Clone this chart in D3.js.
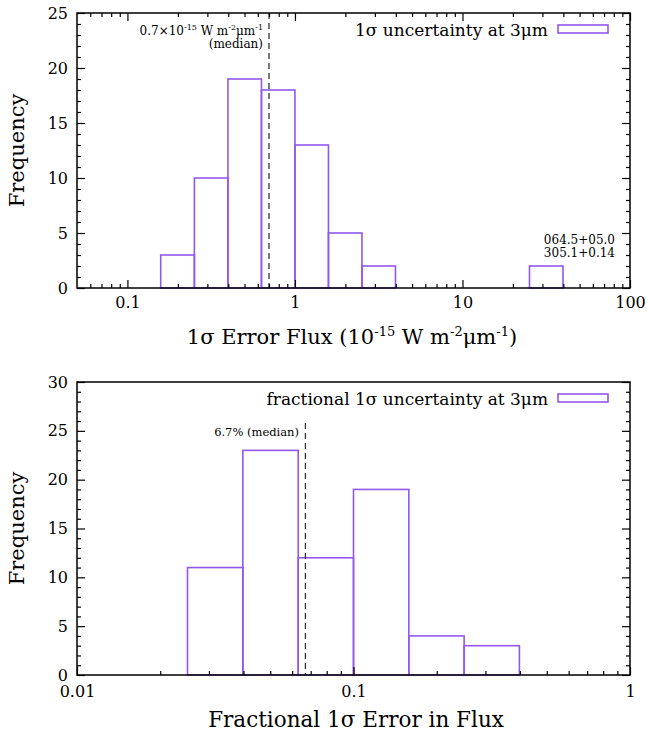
<!DOCTYPE html>
<html>
<head>
<meta charset="utf-8">
<script src="https://cdn.jsdelivr.net/npm/d3@7"></script>
<style>
  body { margin: 0; background: #fff; }
  svg { font-family: "DejaVu Serif", serif; }
</style>
</head>
<body>
<div id="chart"></div>
<script>
// top panel: 1 sigma error flux (10^-15 W m^-2 um^-1)
const topBinLo = [0.158, 0.251, 0.398, 0.631, 1.0, 1.585, 2.512, 25.12];
const topBinHi = [0.251, 0.398, 0.631, 1.0, 1.585, 2.512, 3.981, 39.81];
const topCounts = [3, 10, 19, 18, 13, 5, 2, 2];
const topMedian = 0.7;
const topXTicks = [0.1, 1, 10, 100];
const topYTicks = [0, 5, 10, 15, 20, 25];

// bottom panel: fractional 1 sigma error
const botBinLo = [0.0251, 0.0398, 0.0631, 0.1, 0.1585, 0.2512];
const botBinHi = [0.0398, 0.0631, 0.1, 0.1585, 0.2512, 0.3981];
const botCounts = [11, 23, 12, 19, 4, 3];
const botMedian = 0.067;
const botXTicks = [0.01, 0.1, 1];
const botYTicks = [0, 5, 10, 15, 20, 25, 30];

const W = 649, H = 736;
const purple = "#9157ee";

const svg = d3.select("#chart").append("svg")
  .attr("width", W).attr("height", H);

function logMinors(domain) {
  const out = [];
  for (let e = -3; e <= 3; e++) {
    for (let m = 2; m <= 9; m++) {
      const v = m * Math.pow(10, e);
      if (v > domain[0] && v < domain[1]) out.push(+v.toPrecision(3));
    }
  }
  return out;
}

function drawPanel(opt) {
  const x = d3.scaleLog().domain(opt.xDomain).range([opt.left, opt.right]);
  const y = d3.scaleLinear().domain(opt.yDomain).range([opt.bottom, opt.top]);
  const g = svg.append("g");
  const ymax = opt.yDomain[1];
  const yMinor = d3.range(0, ymax + 1).filter(v => v % 5 !== 0);
  const xMinor = logMinors(opt.xDomain);

  // bars
  g.selectAll("rect.bar")
    .data(opt.counts)
    .join("rect")
    .attr("class", "bar")
    .attr("x", (d, i) => x(opt.lo[i]))
    .attr("y", d => y(d))
    .attr("width", (d, i) => x(opt.hi[i]) - x(opt.lo[i]))
    .attr("height", d => y(0) - y(d))
    .attr("fill", "none")
    .attr("stroke", purple)
    .attr("stroke-width", 1.6);

  // median line
  g.append("line")
    .attr("x1", x(opt.median)).attr("x2", x(opt.median))
    .attr("y1", y(opt.medianTop)).attr("y2", y(0))
    .attr("stroke", "#333")
    .attr("stroke-width", 1.3)
    .attr("stroke-dasharray", "6,4");

  // axes (inward ticks)
  const axisFont = "16px 'DejaVu Serif'";
  g.append("g")
    .attr("transform", `translate(0,${opt.bottom})`)
    .call(d3.axisBottom(x).tickValues(opt.xTicks).tickSize(-8).tickPadding(opt.xPad)
      .tickFormat(d => d))
    .call(a => a.select(".domain").remove())
    .call(a => a.selectAll("text").style("font", axisFont).attr("dy", "0.71em"));
  g.append("g")
    .attr("transform", `translate(0,${opt.bottom})`)
    .call(d3.axisBottom(x).tickValues(xMinor).tickSize(-4).tickFormat(""))
    .call(a => a.select(".domain").remove());

  g.append("g")
    .attr("transform", `translate(${opt.left},0)`)
    .call(d3.axisLeft(y).tickValues(opt.yTicks).tickSize(-8).tickPadding(9))
    .call(a => a.select(".domain").remove())
    .call(a => a.selectAll("text").style("font", axisFont));
  g.append("g")
    .attr("transform", `translate(${opt.left},0)`)
    .call(d3.axisLeft(y).tickValues(yMinor).tickSize(-4).tickFormat(""))
    .call(a => a.select(".domain").remove());

  // mirrored ticks
  g.append("g")
    .attr("transform", `translate(${opt.right},0)`)
    .call(d3.axisRight(y).tickValues(opt.yTicks).tickSize(-8).tickFormat(""))
    .call(a => a.select(".domain").remove());
  g.append("g")
    .attr("transform", `translate(${opt.right},0)`)
    .call(d3.axisRight(y).tickValues(yMinor).tickSize(-4).tickFormat(""))
    .call(a => a.select(".domain").remove());
  if (opt.topTicks) {
    g.append("g")
      .attr("transform", `translate(0,${opt.top})`)
      .call(d3.axisTop(x).tickValues(opt.xTicks).tickSize(-8).tickFormat(""))
      .call(a => a.select(".domain").remove());
    g.append("g")
      .attr("transform", `translate(0,${opt.top})`)
      .call(d3.axisTop(x).tickValues(xMinor).tickSize(-4).tickFormat(""))
      .call(a => a.select(".domain").remove());
  }
  g.selectAll(".tick line").attr("stroke", "#000").attr("stroke-width", 1.2);

  // frame
  g.append("rect")
    .attr("x", opt.left).attr("y", opt.top)
    .attr("width", opt.right - opt.left).attr("height", opt.bottom - opt.top)
    .attr("fill", "none").attr("stroke", "#000").attr("stroke-width", 1.5);

  // y title
  g.append("text")
    .attr("transform", `translate(24,${(opt.top + opt.bottom) / 2}) rotate(-90)`)
    .attr("text-anchor", "middle")
    .style("font", "21px 'DejaVu Serif'")
    .text("Frequency");

  // legend
  g.append("text")
    .attr("x", 548).attr("y", opt.top + 23)
    .attr("text-anchor", "end")
    .style("font", "17px 'DejaVu Serif'")
    .text(opt.legend);
  g.append("rect")
    .attr("x", 558).attr("y", opt.top + 12)
    .attr("width", 50).attr("height", 8)
    .attr("fill", "none").attr("stroke", purple).attr("stroke-width", 1.6);

  return { g, x, y };
}

// ---- top panel
const p1 = drawPanel({
  left: 77, right: 630, top: 13, bottom: 288,
  xDomain: [0.05, 100], yDomain: [0, 25],
  lo: topBinLo, hi: topBinHi, counts: topCounts,
  median: topMedian, medianTop: 25,
  xTicks: topXTicks, yTicks: topYTicks, topTicks: true, xPad: 9,
  legend: "1σ uncertainty at 3μm"
});

const ann1 = p1.g.append("text")
  .attr("x", 263).attr("y", 35)
  .attr("text-anchor", "end")
  .style("font", "12px 'DejaVu Serif'");
ann1.append("tspan").text("0.7×10");
ann1.append("tspan").attr("dy", -5).style("font-size", "8px").text("-15");
ann1.append("tspan").attr("dy", 5).text(" W m");
ann1.append("tspan").attr("dy", -5).style("font-size", "8px").text("-2");
ann1.append("tspan").attr("dy", 5).text("μm");
ann1.append("tspan").attr("dy", -5).style("font-size", "8px").text("-1");
p1.g.append("text")
  .attr("x", 263).attr("y", 48)
  .attr("text-anchor", "end")
  .style("font", "12px 'DejaVu Serif'")
  .text("(median)");

p1.g.append("text")
  .attr("x", 615).attr("y", 244)
  .attr("text-anchor", "end")
  .style("font", "12px 'DejaVu Serif'")
  .text("064.5+05.0");
p1.g.append("text")
  .attr("x", 615).attr("y", 257)
  .attr("text-anchor", "end")
  .style("font", "12px 'DejaVu Serif'")
  .text("305.1+0.14");

const xt1 = p1.g.append("text")
  .attr("x", 352).attr("y", 344)
  .attr("text-anchor", "middle")
  .style("font", "21px 'DejaVu Serif'");
xt1.append("tspan").text("1σ Error Flux (10");
xt1.append("tspan").attr("dy", -8).style("font-size", "13px").text("-15");
xt1.append("tspan").attr("dy", 8).text(" W m");
xt1.append("tspan").attr("dy", -8).style("font-size", "13px").text("-2");
xt1.append("tspan").attr("dy", 8).text("μm");
xt1.append("tspan").attr("dy", -8).style("font-size", "13px").text("-1");
xt1.append("tspan").attr("dy", 8).text(")");

// ---- bottom panel
const p2 = drawPanel({
  left: 77, right: 630, top: 382, bottom: 675,
  xDomain: [0.01, 1], yDomain: [0, 30],
  lo: botBinLo, hi: botBinHi, counts: botCounts,
  median: botMedian, medianTop: 25.8,
  xTicks: botXTicks, yTicks: botYTicks, topTicks: false, xPad: 11,
  legend: "fractional 1σ uncertainty at 3μm"
});

p2.g.append("text")
  .attr("x", 299).attr("y", 436)
  .attr("text-anchor", "end")
  .style("font", "11.5px 'DejaVu Serif'")
  .text("6.7% (median)");

p2.g.append("text")
  .attr("x", 356).attr("y", 727)
  .attr("text-anchor", "middle")
  .style("font", "21.5px 'DejaVu Serif'")
  .text("Fractional 1σ Error in Flux");
</script>
</body>
</html>
